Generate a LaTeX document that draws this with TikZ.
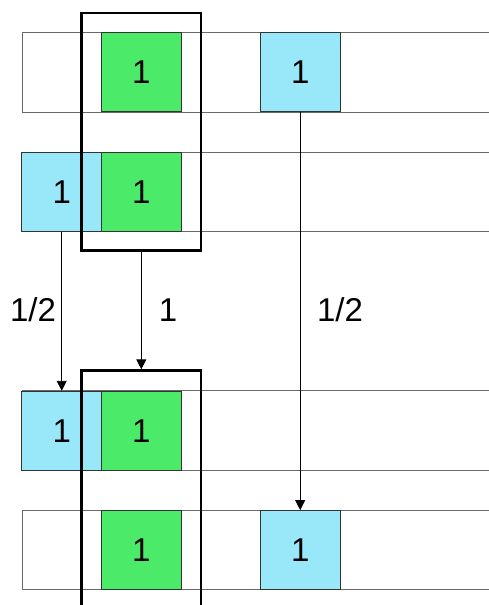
\documentclass[tikz,border=0pt]{standalone}
\usepackage{fontspec}
\setmainfont{Liberation Sans}
\usetikzlibrary{arrows.meta}
\definecolor{cellgreen}{RGB}{75,235,105}
\definecolor{cellcyan}{RGB}{153,232,250}
\definecolor{stripgray}{RGB}{105,105,105}
\begin{document}
\begin{tikzpicture}[x=1pt,y=-1pt,
  strip/.style={draw=stripgray,line width=1pt},
  cell/.style={draw=black!80,line width=0.8pt,minimum width=80pt,minimum height=79pt,
    inner sep=0pt,font=\fontsize{33}{33}\selectfont},
  greencell/.style={cell,fill=cellgreen},
  cyancell/.style={cell,fill=cellcyan},
  frame/.style={draw=black,line width=2.8pt,inner sep=0pt},
  flow/.style={draw=black,line width=0.9pt,-{Triangle[length=10pt,width=10pt]}},
  lbl/.style={font=\fontsize{33}{33}\selectfont}]
\useasboundingbox (0,0) rectangle (489,605);
\clip (0,0) rectangle (489,605);
% the four memory rows, running off the right edge
\draw[strip] (22,32.7) rectangle (500,112);
\draw[strip] (22,152) rectangle (500,231.7);
\draw[strip] (22,390.7) rectangle (500,470.7);
\draw[strip] (22,510.3) rectangle (500,589.7);
% row 1
\node[greencell] (gA) at (141.3,72.3) {1};
\node[cyancell]  (cA) at (300.2,72.3) {1};
% row 2
\node[cyancell]  (cB) at (61.7,191.8) {1};
\node[greencell] (gB) at (141.3,191.8) {1};
% row 3
\node[cyancell]  (cC) at (61.7,430.7) {1};
\node[greencell] (gC) at (141.3,430.7) {1};
% row 4
\node[greencell] (gD) at (141.3,550) {1};
\node[cyancell]  (cD) at (300.2,550) {1};
% column frames
\node[frame,minimum width=119.3pt,minimum height=237.7pt] (topframe) at (141.3,131.8) {};
\node[frame,minimum width=119.3pt,minimum height=249.3pt] (botframe) at (141.3,495.35) {};
% transfers
\draw[flow] (cB.south) -- (cC.north);
\draw[flow] (topframe.south) -- (botframe.north);
\draw[flow] (cA.south) -- (cD.north);
% weights
\node[lbl] (wL) at (33,310) {1/2};
\node[lbl] (wM) at (168,310) {1};
\node[lbl] (wR) at (340,310) {1/2};
\end{tikzpicture}
\end{document}
